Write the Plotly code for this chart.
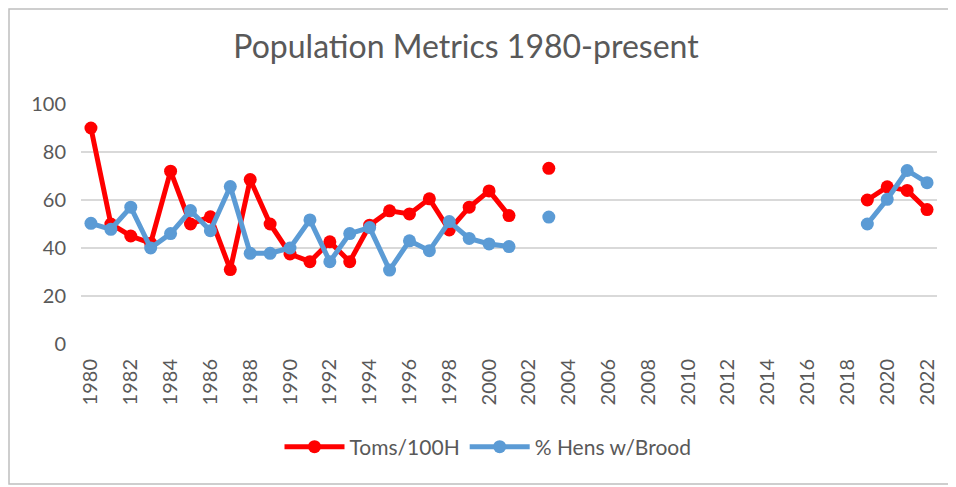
import plotly.graph_objects as go

years = list(range(1980, 2023))
toms_data = {
    1980: 90, 1981: 50, 1982: 45, 1983: 42, 1984: 72, 1985: 50, 1986: 53,
    1987: 31, 1988: 68.5, 1989: 50, 1990: 37.5, 1991: 34.3, 1992: 42.6,
    1993: 34.3, 1994: 49.5, 1995: 55.5, 1996: 54.2, 1997: 60.5, 1998: 47.5,
    1999: 57, 2000: 63.8, 2001: 53.5, 2003: 73.2,
    2019: 60, 2020: 65.5, 2021: 64, 2022: 56,
}
hens_data = {
    1980: 50.3, 1981: 47.8, 1982: 57, 1983: 40, 1984: 46, 1985: 55.6,
    1986: 47.2, 1987: 65.6, 1988: 37.8, 1989: 37.8, 1990: 40, 1991: 51.7,
    1992: 34.3, 1993: 46, 1994: 48.5, 1995: 30.8, 1996: 43, 1997: 38.9,
    1998: 51, 1999: 44, 2000: 41.7, 2001: 40.6, 2003: 52.9,
    2019: 50, 2020: 60.3, 2021: 72.3, 2022: 67.2,
}
toms = [toms_data.get(y) for y in years]
hens = [hens_data.get(y) for y in years]
tick_years = list(range(1980, 2023, 2))

# page has an 8px body margin; work in page coordinates and convert
OFF = 8
PW, PH = 956, 487
W, H = PW - OFF, PH - OFF
L_page, R_page, T_page, B_page = 81, 937, 104, 344
ML = L_page - OFF
MT = T_page - OFF
MR = PW - R_page
MB = PH - B_page
pw, ph = W - ML - MR, H - MT - MB

def px(x):  # page x -> paper
    return (x - OFF - ML) / pw

def py(y):  # page y -> paper
    return (PH - MB - y) / ph

FONT = "Lato"
GRAY = "#595959"

fig = go.Figure()
fig.add_trace(go.Scatter(
    x=years, y=toms, name="Toms/100H", mode="lines+markers",
    line=dict(color="#FF0000", width=5), marker=dict(size=13, color="#FF0000"),
    connectgaps=False,
))
fig.add_trace(go.Scatter(
    x=years, y=hens, name="% Hens w/Brood", mode="lines+markers",
    line=dict(color="#5B9BD5", width=5), marker=dict(size=13, color="#5B9BD5"),
    connectgaps=False,
))

fig.update_layout(
    width=W, height=H,
    margin=dict(l=ML, r=MR, t=MT, b=MB, pad=0, autoexpand=False),
    paper_bgcolor="white", plot_bgcolor="white",
    font=dict(family=FONT, color=GRAY, size=20),
    title=dict(text="Population Metrics 1980-present", x=(466 - OFF) / W, xref="container",
               xanchor="center", y=(PH - 47) / H, yref="container", yanchor="middle",
               font=dict(size=32, color=GRAY, family=FONT)),
    showlegend=True,
    legend=dict(orientation="h", x=px(488), xanchor="center", y=py(447), yanchor="middle",
                font=dict(size=21, color=GRAY, family=FONT), itemwidth=60,
                bgcolor="rgba(0,0,0,0)"),
    xaxis=dict(range=[1979.5, 2022.5], tickmode="array", tickvals=tick_years,
               ticktext=[str(y) for y in tick_years], tickangle=-90,
               showgrid=False, zeroline=False, showline=False, ticks="",
               ticklabelstandoff=10, automargin=False,
               tickfont=dict(size=20, color=GRAY)),
    yaxis=dict(range=[0, 100], tickmode="array", tickvals=[0, 20, 40, 60, 80, 100],
               showgrid=True, gridcolor="#D9D9D9", gridwidth=1.5, zeroline=False,
               showline=False, ticks="", ticklabelstandoff=14, automargin=False,
               tickfont=dict(size=20, color=GRAY)),
    shapes=[dict(type="rect", xref="paper", yref="paper",
                 x0=px(9), x1=px(955), y0=py(484), y1=py(9),
                 line=dict(color="#BFBFBF", width=1.5), layer="below")],
)

fig.write_html("out.html")
